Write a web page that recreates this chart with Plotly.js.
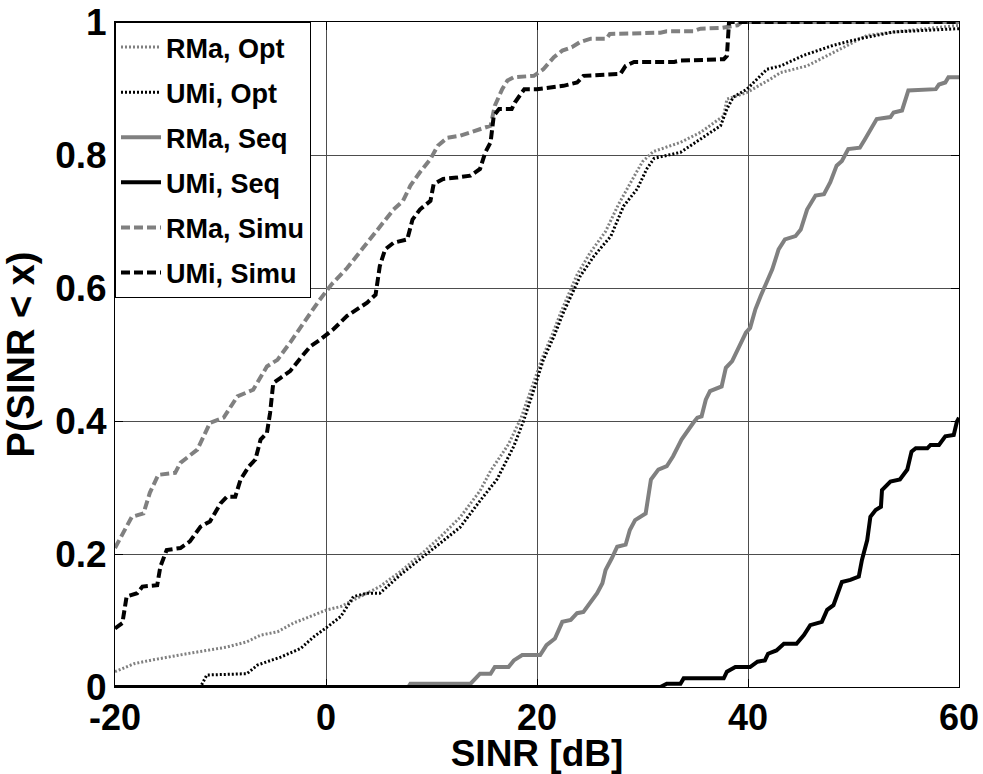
<!DOCTYPE html>
<html>
<head>
<meta charset="utf-8">
<script src="https://cdn.plot.ly/plotly-3.0.1.min.js"></script>
<style>html,body{margin:0;padding:0;background:#fff;}#chart{width:983px;height:774px;}</style>
</head>
<body>
<div id="chart"></div>
<script>
var seriesNames = ["RMa, Opt", "UMi, Opt", "RMa, Seq", "UMi, Seq", "RMa, Simu", "UMi, Simu"];

var rmaOptX = [-20,-18.2,-16.7,-15.1,-13.2,-11.3,-9.4,-7.5,-6.2,-4.6,-3.1,-1.2,0.1,1.4,2.6,3.9,5.1,7.0,8.9,10.8,12.7,14.6,15.6,17.3,18.5,19.5,20.5,21.5,22.3,23.8,25.0,26.5,27.7,29.0,30.0,31.0,31.7,33.6,35.5,37.7,38.0,39.9,42.1,43.1,45.6,48.1,51.3,53.8,57.0,59.2,60];
var rmaOptY = [0.023,0.035,0.040,0.045,0.050,0.055,0.060,0.068,0.078,0.083,0.096,0.108,0.116,0.121,0.131,0.141,0.151,0.173,0.198,0.225,0.255,0.295,0.325,0.365,0.405,0.45,0.495,0.532,0.565,0.620,0.652,0.685,0.725,0.762,0.79,0.805,0.809,0.819,0.834,0.859,0.884,0.894,0.914,0.924,0.934,0.954,0.980,0.985,0.990,0.994,0.995];

var umiOptX = [-20,-11.9,-11.3,-7.5,-6.5,-4.3,-2.4,-1.2,0.1,1.4,2.6,3.9,5.1,7.0,8.9,10.8,12.7,14.6,16.2,17.8,18.7,19.7,20.6,21.6,22.5,24.1,25.4,27.0,28.2,29.5,30.4,31.1,31.7,33.6,35.5,37.4,38.0,38.6,39.9,41.8,43.1,45.3,48.1,50.6,53.8,57.0,60];
var umiOptY = [0,0,0.018,0.020,0.033,0.045,0.058,0.075,0.090,0.106,0.136,0.141,0.141,0.168,0.192,0.216,0.240,0.280,0.312,0.362,0.399,0.447,0.492,0.527,0.563,0.618,0.648,0.678,0.723,0.749,0.779,0.795,0.797,0.804,0.824,0.844,0.869,0.887,0.899,0.929,0.934,0.950,0.965,0.975,0.985,0.988,0.990];

var rmaSeqX = [-20,7.8,8.0,13.7,14.6,15.6,16.0,17.3,17.8,18.6,20.3,20.9,21.7,22.4,23.2,23.8,24.4,25.7,26.2,26.5,27.1,27.6,28.4,28.8,29.3,30.3,30.8,31.5,32.3,32.9,33.7,34.1,34.8,35.2,35.6,36.0,36.4,37.5,37.9,38.5,39.3,39.8,40.2,40.7,41.2,41.8,42.3,42.9,43.5,44.5,45.0,45.6,46.4,47.2,47.8,48.4,48.9,49.5,50.6,51.1,52.2,53.5,53.8,54.6,55.2,57.8,58.1,58.7,59.0,60];
var rmaSeqY = [0,0,0.005,0.005,0.020,0.020,0.030,0.030,0.040,0.048,0.048,0.063,0.073,0.098,0.101,0.111,0.113,0.141,0.156,0.176,0.194,0.211,0.214,0.236,0.251,0.261,0.312,0.327,0.332,0.347,0.372,0.382,0.397,0.405,0.407,0.432,0.445,0.452,0.480,0.490,0.515,0.533,0.540,0.568,0.588,0.608,0.628,0.658,0.673,0.678,0.688,0.718,0.739,0.741,0.759,0.784,0.791,0.809,0.811,0.824,0.854,0.857,0.864,0.867,0.897,0.899,0.906,0.909,0.917,0.917];

var umiSeqX = [-20,31.7,32.3,33.6,33.9,37.7,38.0,38.8,40.2,40.9,41.6,41.9,42.7,43.4,44.6,45.3,45.9,47.0,47.5,48.1,48.4,48.9,49.7,50.5,50.8,51.3,51.6,52.1,52.6,52.7,53.5,54.4,55.1,55.5,55.9,57.0,57.3,58.1,58.7,59.5,59.8,60];
var umiSeqY = [0,0,0.005,0.005,0.013,0.013,0.023,0.030,0.030,0.038,0.040,0.050,0.055,0.065,0.065,0.078,0.093,0.098,0.116,0.123,0.136,0.158,0.161,0.166,0.191,0.221,0.256,0.266,0.271,0.296,0.309,0.312,0.327,0.354,0.359,0.359,0.364,0.364,0.377,0.379,0.399,0.405];

var rmaSimuX = [-20,-19,-18.4,-17.3,-16.7,-15.9,-14.3,-13.8,-12.2,-11.0,-9.7,-8.4,-6.9,-5.6,-4.6,-3.4,-2.1,-0.7,0.5,2.0,3.5,5.1,6.4,7.3,8.0,8.9,9.9,10.6,11.5,12.7,13.7,15.6,16.0,16.7,17.2,17.8,19.7,20.6,21.6,22.4,23.3,24.1,25.1,26.6,26.9,31.7,32.3,34.8,35.5,37.4,39.0,39.4,60];
var rmaSimuY = [0.209,0.24,0.256,0.261,0.292,0.319,0.322,0.337,0.357,0.397,0.405,0.437,0.447,0.482,0.492,0.518,0.548,0.580,0.605,0.630,0.660,0.693,0.718,0.731,0.754,0.774,0.794,0.814,0.826,0.829,0.834,0.844,0.874,0.899,0.912,0.917,0.919,0.929,0.947,0.957,0.962,0.970,0.975,0.975,0.982,0.984,0.986,0.986,0.990,0.991,0.995,1.0,1.0];

var umiSimuX = [-20,-19.3,-18.9,-17.9,-17.4,-16.0,-15.7,-15.1,-13.8,-12.9,-11.9,-11.0,-10.0,-9.4,-8.6,-8.1,-7.3,-6.7,-6.2,-5.6,-5.3,-5.0,-4.3,-3.4,-2.4,-1.5,-0.5,0.7,2.0,3.9,4.7,5.1,5.6,6.4,7.7,8.2,8.9,9.9,10.2,11.1,12.4,13.7,14.6,15.1,15.6,15.9,16.4,17.6,17.9,18.6,18.8,20.0,22.5,23.8,24.4,27.9,28.4,29.2,33.0,33.6,37.7,38.0,38.2,38.2,60];
var umiSimuY = [0.088,0.096,0.136,0.141,0.151,0.153,0.181,0.206,0.209,0.219,0.241,0.249,0.276,0.286,0.286,0.312,0.332,0.342,0.372,0.382,0.412,0.457,0.465,0.475,0.495,0.512,0.523,0.538,0.558,0.578,0.59,0.633,0.658,0.668,0.673,0.703,0.718,0.731,0.756,0.764,0.766,0.769,0.779,0.804,0.819,0.859,0.869,0.869,0.879,0.894,0.899,0.899,0.904,0.909,0.919,0.922,0.934,0.940,0.940,0.942,0.944,0.949,0.990,1.0,1.0];

var xTickVals = [-20, 0, 20, 40, 60];
var xTickText = ["-20", "0", "20", "40", "60"];
var yTickVals = [0, 0.2, 0.4, 0.6, 0.8, 1];
var yTickText = ["0", "0.2", "0.4", "0.6", "0.8", "1"];

var GRAY = "#808080", BLACK = "#000000";
var FONT = "Liberation Sans, Arial, Helvetica, sans-serif";

function tr(i, x, y, color, width, dash) {
  return {
    x: x, y: y, type: "scatter", mode: "lines", name: seriesNames[i],
    legendgroup: "g" + i,
    line: {color: color, width: width, dash: dash, shape: "linear"},
    hoverinfo: "skip"
  };
}

var data = [
  tr(0, rmaOptX, rmaOptY, GRAY, 3, "2px,2px"),
  tr(1, umiOptX, umiOptY, BLACK, 3, "2px,2px"),
  tr(2, rmaSeqX, rmaSeqY, GRAY, 4, "solid"),
  tr(3, umiSeqX, umiSeqY, BLACK, 4, "solid"),
  tr(4, rmaSimuX, rmaSimuY, GRAY, 4, "9px,4px"),
  tr(5, umiSimuX, umiSimuY, BLACK, 4, "9px,4px")
];

var layout = {
  width: 983, height: 774,
  margin: {l: 115, r: 24, t: 22, b: 87, pad: 0},
  paper_bgcolor: "#ffffff", plot_bgcolor: "#ffffff",
  font: {family: FONT, color: "#000", size: 37, weight: "bold"},
  showlegend: true,
  legend: {
    x: 0, y: 1, xanchor: "left", yanchor: "top",
    bgcolor: "#ffffff", bordercolor: "#000000", borderwidth: 1,
    font: {family: FONT, size: 27, color: "#000", weight: "bold"},
    traceorder: "grouped", tracegroupgap: 7, itemwidth: 40
  },
  xaxis: {
    range: [-20, 60], tickmode: "array", tickvals: xTickVals, ticktext: xTickText,
    showgrid: true, gridcolor: "#4d4d4d", gridwidth: 1,
    zeroline: false, showline: true, linecolor: "#000", linewidth: 1, mirror: "ticks",
    ticks: "inside", ticklen: 8, tickcolor: "#000",
    tickfont: {family: FONT, size: 36, color: "#000", weight: "bold"},
    ticklabelstandoff: -1,
    title: {text: "SINR [dB]", font: {family: FONT, size: 37, color: "#000", weight: "bold"}, standoff: 2}
  },
  yaxis: {
    range: [0, 1], tickmode: "array", tickvals: yTickVals, ticktext: yTickText,
    showgrid: true, gridcolor: "#4d4d4d", gridwidth: 1,
    zeroline: false, showline: true, linecolor: "#000", linewidth: 1, mirror: "ticks",
    ticks: "inside", ticklen: 8, tickcolor: "#000",
    tickfont: {family: FONT, size: 37, color: "#000", weight: "bold"},
    ticklabelstandoff: 0,
    title: {text: "P(SINR < x)", font: {family: FONT, size: 38, color: "#000", weight: "bold"}, standoff: 8}
  }
};

Plotly.newPlot("chart", data, layout, {staticPlot: true, displayModeBar: false});
</script>
</body>
</html>
